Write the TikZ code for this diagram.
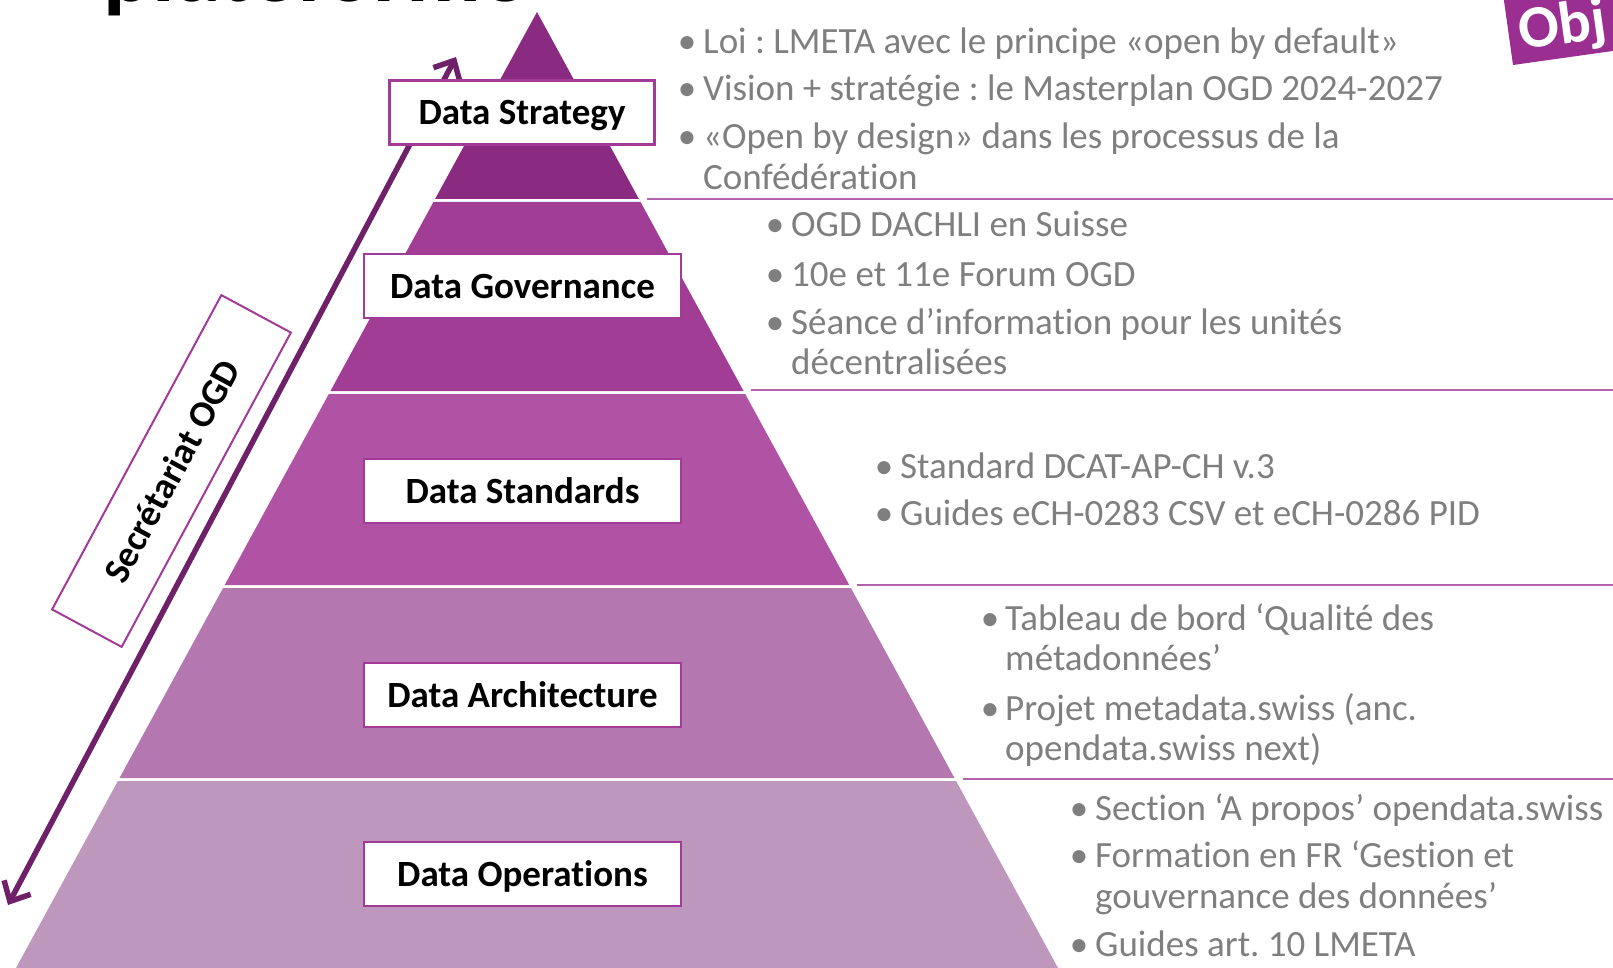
\documentclass[tikz,border=0pt]{standalone}
\usepackage{fontspec}
\setmainfont{Carlito}[Ligatures=NoCommon]
\usepackage{xcolor}
\usetikzlibrary{arrows.meta,positioning}

\definecolor{tierA}{HTML}{8A2A80}
\definecolor{tierB}{HTML}{A13D95}
\definecolor{tierC}{HTML}{B053A5}
\definecolor{tierD}{HTML}{B577AF}
\definecolor{tierE}{HTML}{BE98BC}
\definecolor{boxpurple}{HTML}{A23B98}
\definecolor{arrowpurple}{HTML}{6E2069}
\definecolor{objpurple}{HTML}{9B2F91}
\definecolor{txtgray}{HTML}{7F7F7F}

\tikzset{
    lbl/.style={draw=boxpurple, line width=2.5pt, fill=white, minimum width=317pt, minimum height=64pt,
        inner sep=0pt, text depth=0pt, font=\fontsize{37}{44}\selectfont\bfseries},
    txt/.style={anchor=base west, inner sep=0pt, text=txtgray, font=\fontsize{37}{41}\selectfont},
    blt/.style={anchor=base, inner sep=0pt, text=txtgray, font=\fontsize{37}{41}\selectfont},
    sepline/.style={draw=boxpurple!80, line width=1.8pt},
}

\begin{document}
\frenchspacing
\begin{tikzpicture}[x=1pt, y=-1pt]
    \useasboundingbox (0,0) rectangle (1613,968);

    % title, mostly cut off
    \node[anchor=base west, inner sep=0pt, font=\fontsize{92}{94}\selectfont\bfseries] (title) at (103,2) {plateforme};

    % pyramid
    \foreach \yt/\yb/\c in {12/199/tierA, 202/391/tierB, 394/585/tierC, 588/778/tierD, 781/990/tierE}
        \fill[\c] ({537-0.545*(\yt-12)},\yt) -- ({537+0.545*(\yt-12)},\yt)
            -- ({537+0.545*(\yb-12)},\yb) -- ({537-0.545*(\yb-12)},\yb) -- cycle;

    % separators on the right
    \foreach \y in {199,390,585,779}
        \draw[sepline] ({537+0.545*(\y-12)+8},\y) -- (1613,\y);

    % arrow
    \coordinate (up) at (456,57);
    \coordinate (down) at (8,905);
    \draw[arrowpurple, line width=5.5pt, {Straight Barb[length=16pt,width=30pt]}-{Straight Barb[length=16pt,width=30pt]}] (up) -- (down);

    % labels
    \node[lbl, minimum width=265pt] (strategy) at (522,112.5) {Data Strategy};
    \node[lbl] (governance) at (522.5,286) {Data Governance};
    \node[lbl] (standards) at (522.5,491) {Data Standards};
    \node[lbl] (architecture) at (522.5,695) {Data Architecture};
    \node[lbl] (operations) at (522.5,874) {Data Operations};

    \node[lbl, line width=2pt, minimum width=357pt, minimum height=79pt, rotate=61.7] (secretariat) at (171.5,471) {Secrétariat OGD};

    % Obj tag
    \fill[objpurple, rotate around={8:(1513,65)}] (1513,65) rectangle ++(200,-110);
    \node[anchor=base west, rotate=8, inner sep=0pt, text=white, font=\fontsize{60}{62}\selectfont\bfseries] (obj) at (1521,50) {Obj};

    % texts
    \node[blt] (b1a) at (687,54) {•};
    \node[txt] (t1a) at (703,54) {Loi : LMETA avec le principe «open by default»};
    \node[blt] (b1b) at (687,101) {•};
    \node[txt] (t1b) at (703,101) {Vision + stratégie : le Masterplan OGD 2024-2027};
    \node[blt] (b1c) at (687,149) {•};
    \node[txt] (t1c) at (703,149) {«Open by design» dans les processus de la};
    \node[txt] (t1d) at (703,190) {Confédération};

    \node[blt] (b2a) at (775,237) {•};
    \node[txt] (t2a) at (791,237) {OGD DACHLI en Suisse};
    \node[blt] (b2b) at (775,286) {•};
    \node[txt] (t2b) at (791,286) {10e et 11e Forum OGD};
    \node[blt] (b2c) at (775,334) {•};
    \node[txt] (t2c) at (791,334) {Séance d’information pour les unités};
    \node[txt] (t2d) at (791,374) {décentralisées};

    \node[blt] (b3a) at (884,478) {•};
    \node[txt] (t3a) at (900,478) {Standard DCAT-AP-CH v.3};
    \node[blt] (b3b) at (884,525) {•};
    \node[txt] (t3b) at (900,525) {Guides eCH-0283 CSV et eCH-0286 PID};

    \node[blt] (b4a) at (990,630) {•};
    \node[txt] (t4a) at (1005,630) {Tableau de bord ‘Qualité des};
    \node[txt] (t4b) at (1005,670) {métadonnées’};
    \node[blt] (b4c) at (990,720) {•};
    \node[txt] (t4c) at (1005,720) {Projet metadata.swiss (anc.};
    \node[txt] (t4d) at (1005,760) {opendata.swiss next)};

    \node[blt] (b5a) at (1079,820) {•};
    \node[txt] (t5a) at (1095,820) {Section ‘A propos’ opendata.swiss};
    \node[blt] (b5b) at (1079,867) {•};
    \node[txt] (t5b) at (1095,867) {Formation en FR ‘Gestion et};
    \node[txt] (t5c) at (1095,908) {gouvernance des données’};
    \node[blt] (b5d) at (1079,956) {•};
    \node[txt] (t5d) at (1095,956) {Guides art. 10 LMETA};
\end{tikzpicture}
\end{document}
